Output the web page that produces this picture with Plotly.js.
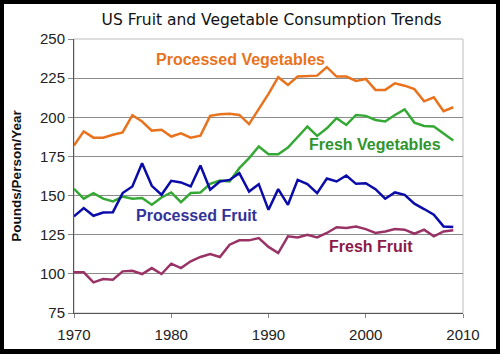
<!DOCTYPE html>
<html>
<head>
<meta charset="utf-8">
<script src="https://cdn.plot.ly/plotly-3.0.1.min.js"></script>
<style>
html,body{margin:0;padding:0;background:#fff;}
#wrap{position:relative;width:500px;height:354px;}
#chart{width:500px;height:354px;}
#frame{position:absolute;left:0;top:0;width:500px;height:354px;box-sizing:border-box;border:4px solid #000;border-bottom-width:5px;pointer-events:none;}
</style>
</head>
<body>
<div id="wrap"><div id="chart"></div><div id="frame"></div></div>
<script>
const years = [1970,1971,1972,1973,1974,1975,1976,1977,1978,1979,1980,1981,1982,1983,1984,1985,1986,1987,1988,1989,1990,1991,1992,1993,1994,1995,1996,1997,1998,1999,2000,2001,2002,2003,2004,2005,2006,2007,2008,2009];
const processedVegetables = [182,191,187,187,188.8,190.3,201.3,197.3,191.5,192,187.7,189.8,187,188.3,200.9,202,202.2,201.5,195.6,205,215,225.6,220.7,226,226.4,226.6,232,226,226,223.2,224.5,217.5,217.5,221.7,220.2,218,210.2,212.7,203.9,206.4];
const freshVegetables = [154.3,148,151.6,148,146.3,149.4,148,148.4,144.1,148.8,152,145.8,151.6,152,157.5,159.6,159,167.5,173.9,181.3,176.4,176.4,180.7,187.7,194.1,188.1,193,199.4,195.1,201.5,200.9,198.3,197.3,201.5,205.1,196.6,194.5,194.1,189.8,185.2];
const processedFruit = [136.7,142,137.1,139.2,139.4,151.6,155.8,170.7,156.2,150.5,159.4,158.4,155.8,169.2,153.7,159,160,164.3,152.6,157.3,140.9,154.1,144.1,160,157.3,151.6,160.9,159,162.8,157.5,157.9,154.1,148,152,150.5,144.8,141.4,137.8,130.3,129.9];
const freshFruit = [101,101,94.6,96.7,96.3,101.6,102,99.9,103.7,99.9,106.5,103.7,108,110.8,112.7,110.8,118.6,121.4,121.4,122.9,117.2,113.3,124,123.3,125,123.3,126.1,129.8,129.3,130.3,128.6,126.1,127.1,128.6,128.2,125.6,128.2,124,127.1,127.8];

const seriesNames = ['Processed Vegetables','Fresh Vegetables','Processed Fruit','Fresh Fruit'];
const seriesValues = [processedVegetables, freshVegetables, processedFruit, freshFruit];
const lineColors = ['#E8731E','#36A836','#0B0BAA','#993366'];
const labelColors = ['#E8731E','#2E952E','#333399','#8B1A48'];
// label anchor positions (data coords)
const labelX = [1987.1, 2001.0, 1982.6, 2000.5];
const labelY = [236.6, 182.9, 137, 117.2];

const traces = seriesNames.map((n,i)=>({
  x: years, y: seriesValues[i], type:'scatter', mode:'lines', name:n,
  line:{color:lineColors[i], width:2.5}, hoverinfo:'skip'
}));

const annotations = seriesNames.map((n,i)=>({
  x: labelX[i], y: labelY[i], xref:'x', yref:'y', text:'<b>'+n+'</b>', showarrow:false,
  font:{family:'Liberation Sans, Arial, sans-serif', size:16, color:labelColors[i]},
  xanchor:'center', yanchor:'middle'
}));

const layout = {
  width:500, height:354,
  margin:{l:74, r:37, t:39, b:41},
  paper_bgcolor:'#fff', plot_bgcolor:'#fff',
  showlegend:false,
  font:{family:'Liberation Sans, Arial, sans-serif', color:'#222'},
  title:{text:'US Fruit and Vegetable Consumption Trends', x:0.508, xref:'paper', y:0.945, yanchor:'middle',
    font:{family:'DejaVu Sans, sans-serif', size:15.5, color:'#111'}},
  xaxis:{range:[1970,2010], tickvals:[1970,1980,1990,2000,2010], ticktext:['1970','1980','1990','2000','2010'],
    showgrid:false, zeroline:false, showline:true, linecolor:'#555', linewidth:1,
    ticks:'outside', ticklen:4, tickcolor:'#888', ticklabelstandoff:4, tickfont:{size:15, color:'#222'}},
  yaxis:{range:[75,250], tickvals:[75,100,125,150,175,200,225,250], ticktext:['75','100','125','150','175','200','225','250'],
    showgrid:true, gridcolor:'#8c8c8c', gridwidth:1, zeroline:false, showline:true, linecolor:'#555', linewidth:1,
    ticks:'outside', ticklen:5, tickcolor:'#888', tickfont:{size:15, color:'#222'},
    title:{text:'<b>Pounds/Person/Year</b>', standoff:15, font:{size:13.5, color:'#111'}}},
  shapes:[{type:'rect', xref:'paper', yref:'paper', x0:0, x1:1, y0:0, y1:1, line:{color:'#bdbdbd', width:1}, layer:'below'}],
  annotations: annotations
};
Plotly.newPlot('chart', traces, layout, {staticPlot:true});
</script>
</body>
</html>
